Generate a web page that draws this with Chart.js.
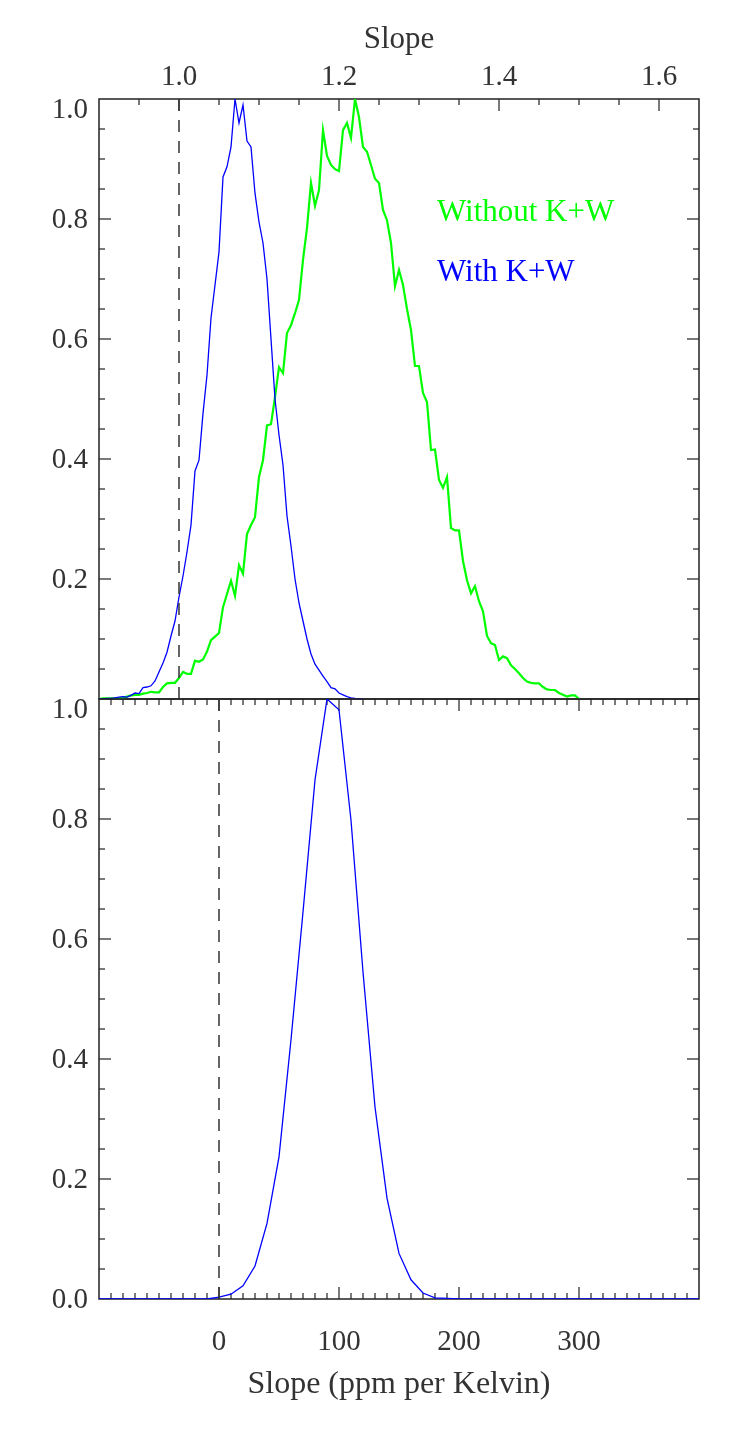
<!DOCTYPE html>
<html><head><meta charset="utf-8">
<script src="https://cdn.jsdelivr.net/npm/chart.js@4"></script>
<style>
body{margin:0;background:#fff;}
#wrap{position:relative;width:750px;height:1450px;overflow:hidden;background:#fff}
canvas{position:absolute;left:0}
.leg{position:absolute;font-family:'Liberation Serif',serif;font-size:31px;line-height:31px;white-space:nowrap}
</style></head><body>
<div id="wrap">
<canvas id="topChart" width="750" height="740" style="top:0"></canvas>
<canvas id="botChart" width="750" height="790" style="top:660px"></canvas>
<div class="leg" id="leg1" style="left:437px;top:195px;color:#00ff00"></div>
<div class="leg" id="leg2" style="left:437px;top:255px;color:#0000ff"></div>
</div>
<script>
// ---- data ----
const slopeStart = 0.9, slopeStep = 0.005;           // histogram bins, top panel (Slope)
const withoutKW = [0.000,0.001,0.001,0.001,0.001,0.001,0.002,0.004,0.006,0.007,
  0.007,0.009,0.010,0.012,0.011,0.011,0.020,0.026,0.027,0.027,
  0.035,0.045,0.042,0.042,0.064,0.062,0.066,0.079,0.098,0.104,
  0.110,0.153,0.175,0.197,0.172,0.223,0.209,0.275,0.290,0.303,
  0.370,0.398,0.456,0.458,0.503,0.553,0.543,0.610,0.623,0.643,
  0.665,0.732,0.785,0.860,0.822,0.848,0.948,0.905,0.890,0.883,
  0.880,0.948,0.960,0.935,1.000,0.970,0.920,0.912,0.890,0.867,
  0.860,0.815,0.798,0.760,0.688,0.715,0.690,0.650,0.615,0.555,
  0.555,0.510,0.495,0.415,0.416,0.365,0.352,0.370,0.285,0.281,
  0.281,0.230,0.198,0.176,0.188,0.163,0.146,0.105,0.093,0.090,
  0.065,0.071,0.068,0.056,0.050,0.043,0.035,0.029,0.027,0.026,
  0.026,0.020,0.016,0.015,0.015,0.010,0.007,0.004,0.006,0.006,0.000];
const withKW = [0.000,0.000,0.001,0.001,0.002,0.003,0.004,0.003,0.006,0.010,
  0.009,0.019,0.020,0.022,0.030,0.045,0.060,0.078,0.105,0.130,
  0.170,0.205,0.245,0.290,0.380,0.398,0.476,0.540,0.635,0.690,
  0.745,0.870,0.887,0.920,1.000,0.960,0.990,0.930,0.920,0.843,
  0.795,0.760,0.700,0.600,0.500,0.440,0.390,0.305,0.255,0.200,
  0.160,0.130,0.100,0.075,0.058,0.048,0.038,0.029,0.019,0.017,
  0.010,0.007,0.004,0.002,0.001,0.0005,0.000];
const ppmStart = -100, ppmStep = 10;                  // bins, bottom panel (ppm per Kelvin)
const withKWppm = [0,0,0,0,0,0,0,0,0,0,
  0.003,0.008,0.022,0.055,0.126,0.237,0.432,0.645,0.865,1.000,
  0.982,0.798,0.545,0.320,0.168,0.076,0.032,0.010,0.002,0.001,
  0,0,0,0,0,0,0,0,0,0,
  0,0,0,0,0,0,0,0,0,0,0];
const slopeTicks = [1.0, 1.2, 1.4, 1.6];
const ppmTicks = [0, 100, 200, 300];
const yTicksTop = [0.2, 0.4, 0.6, 0.8, 1.0];
const yTicksBottom = [0.0, 0.2, 0.4, 0.6, 0.8, 1.0];
const refSlope = 1.0, refPpm = 0;
const seriesNames = ['Without K+W', 'With K+W'];
const axisTitles = ['Slope', 'Slope (ppm per Kelvin)'];

document.getElementById('leg1').textContent = seriesNames[0];
document.getElementById('leg2').textContent = seriesNames[1];

const toPts = (arr, start, step) => arr.map((y, i) => ({x: +(start + i * step).toFixed(4), y}));

Chart.defaults.font.family = "'Liberation Serif', serif";
Chart.defaults.color = '#333';

const innerTicks = {
  id: 'innerTicks',
  beforeDatasetsDraw(chart, args, opts) {
    const {ctx, chartArea: a} = chart;
    ctx.save();
    ctx.strokeStyle = '#222';
    ctx.lineWidth = 1.5;
    ctx.strokeRect(a.left, a.top, a.right - a.left, a.bottom - a.top);
    ctx.lineWidth = 1.2;
    for (const e of opts.edges) {
      const s = chart.scales[e.scale];
      const n = Math.round((e.max - e.min) / e.minor);
      for (let k = 1; k < n; k++) {
        const v = e.min + k * e.minor;
        const r = v / e.major;
        const isMajor = Math.abs(r - Math.round(r)) < 1e-6;
        const len = isMajor ? 12 : 6;
        const p = s.getPixelForValue(v);
        ctx.beginPath();
        if (e.side === 'top') { ctx.moveTo(p, a.top); ctx.lineTo(p, a.top + len); }
        else if (e.side === 'bottom') { ctx.moveTo(p, a.bottom); ctx.lineTo(p, a.bottom - len); }
        else if (e.side === 'left') { ctx.moveTo(a.left, p); ctx.lineTo(a.left + len, p); }
        else { ctx.moveTo(a.right, p); ctx.lineTo(a.right - len, p); }
        ctx.stroke();
      }
    }
    ctx.restore();
  }
};

const yScale = (ticksArr) => ({
  type: 'linear', position: 'left', min: 0, max: 1,
  afterBuildTicks: s => { s.ticks = ticksArr.map(v => ({value: v})); },
  afterFit: s => { s.width = 99; },
  grid: {display: false, drawTicks: false}, border: {display: false},
  ticks: {color: '#333', padding: 11, labelOffset: 1, autoSkip: false,
          font: c => ({size: 29, lineHeight: (c.tick && c.tick.value === 1) ? 0.69 : 1.2}),
          // the top label sits just inside the frame, as in the reference
          callback: v => Number(v) === 1 ? ['', '1.0'] : Number(v).toFixed(1)}
});

new Chart(document.getElementById('topChart'), {
  type: 'line',
  data: {datasets: [
    {label: 'ref', data: [{x: refSlope, y: 0}, {x: refSlope, y: 1}], borderColor: '#333',
     borderWidth: 1.5, borderDash: [12, 9], pointRadius: 0, xAxisID: 'xs', yAxisID: 'y'},
    {label: seriesNames[1], data: toPts(withKW, slopeStart, slopeStep), borderColor: '#0000ff',
     borderWidth: 1.3, pointRadius: 0, tension: 0, xAxisID: 'xs', yAxisID: 'y'},
    {label: seriesNames[0], data: toPts(withoutKW, slopeStart, slopeStep), borderColor: '#00ff00',
     borderWidth: 2.2, pointRadius: 0, tension: 0, xAxisID: 'xs', yAxisID: 'y'}
  ]},
  options: {
    responsive: false, animation: false,
    layout: {padding: {top: 0, right: 51, bottom: 41, left: 0}},
    plugins: {legend: {display: false}, tooltip: {enabled: false},
      innerTicks: {edges: [
        {scale: 'xs', side: 'top', min: 0.9, max: 1.65, minor: 0.05, major: 0.2},
        {scale: 'y', side: 'left', min: 0, max: 1, minor: 0.05, major: 0.2},
        {scale: 'y', side: 'right', min: 0, max: 1, minor: 0.05, major: 0.2}
      ]}},
    scales: {
      xs: {type: 'linear', position: 'top', min: 0.9, max: 1.65,
        afterBuildTicks: s => { s.ticks = slopeTicks.map(v => ({value: v})); },
        afterFit: s => { s.height = 99; },
        grid: {display: false, drawTicks: false}, border: {display: false},
        ticks: {font: {size: 29}, color: '#333', padding: 4, maxRotation: 0, autoSkip: false,
                callback: v => Number(v).toFixed(1)},
        title: {display: true, text: axisTitles[0], font: {size: 31}, color: '#333', padding: {top: 21, bottom: 0}}},
      y: yScale(yTicksTop)
    }
  },
  plugins: [innerTicks]
});

new Chart(document.getElementById('botChart'), {
  type: 'line',
  data: {datasets: [
    {label: 'ref', data: [{x: refPpm, y: 0}, {x: refPpm, y: 1}], borderColor: '#333',
     borderWidth: 1.5, borderDash: [12, 9], pointRadius: 0, xAxisID: 'x', yAxisID: 'y'},
    {label: seriesNames[1], data: toPts(withKWppm, ppmStart, ppmStep), borderColor: '#0000ff',
     borderWidth: 1.3, pointRadius: 0, tension: 0, xAxisID: 'x', yAxisID: 'y'}
  ]},
  options: {
    responsive: false, animation: false,
    layout: {padding: {top: 39, right: 51, bottom: 46, left: 0}},
    plugins: {legend: {display: false}, tooltip: {enabled: false},
      innerTicks: {edges: [
        {scale: 'x', side: 'top', min: -100, max: 400, minor: 10, major: 100},
        {scale: 'x', side: 'bottom', min: -100, max: 400, minor: 10, major: 100},
        {scale: 'y', side: 'left', min: 0, max: 1, minor: 0.05, major: 0.2},
        {scale: 'y', side: 'right', min: 0, max: 1, minor: 0.05, major: 0.2}
      ]}},
    scales: {
      x: {type: 'linear', position: 'bottom', min: -100, max: 400,
        afterBuildTicks: s => { s.ticks = ppmTicks.map(v => ({value: v})); },
        afterFit: s => { s.height = 105; },
        grid: {display: false, drawTicks: false}, border: {display: false},
        ticks: {font: {size: 29}, color: '#333', padding: 26, maxRotation: 0, autoSkip: false,
                callback: v => String(v)},
        title: {display: true, text: axisTitles[1], font: {size: 32}, color: '#333', padding: {top: 0, bottom: 0}}},
      y: yScale(yTicksBottom)
    }
  },
  plugins: [innerTicks]
});
</script>
</body></html>
